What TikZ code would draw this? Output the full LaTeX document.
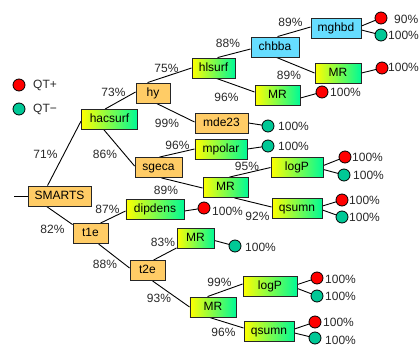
\documentclass[tikz,border=0pt]{standalone}
\usepackage{fontspec}
\setmainfont{Liberation Sans}
\usetikzlibrary{calc,backgrounds}
\definecolor{boxorange}{RGB}{255,204,102}
\definecolor{boxblue}{RGB}{102,221,255}
\definecolor{gradgreen}{RGB}{0,250,150}
\definecolor{qtred}{RGB}{255,0,0}
\definecolor{qtgreen}{RGB}{0,200,150}
\definecolor{labelgray}{RGB}{40,40,40}
\begin{document}
\begin{tikzpicture}[x=1bp,y=-1bp,
  every node/.style={font=\fontsize{12bp}{14bp}\selectfont},
  box/.style={draw=black!85, line width=0.9bp, minimum height=20bp, inner sep=0pt, text height=8.6bp, text depth=2.4bp},
  obox/.style={box, fill=boxorange},
  bbox/.style={box, fill=boxblue},
  gbox/.style={box, left color=yellow, right color=gradgreen},
  leafp/.style={circle, draw=black, line width=0.8bp, fill=qtred, minimum size=12bp, inner sep=0pt},
  leafn/.style={leafp, fill=qtgreen},
  pct/.style={text=labelgray, inner sep=0pt},
  leaflbl/.style={anchor=west, text=labelgray, inner sep=0pt},
  link/.style={draw=black, line width=0.9bp}
]
\useasboundingbox (0,0) rectangle (419,347);

% legend
\node[leafp] (legp) at (19,85) {};
\node[leafn] (legn) at (19,109) {};
\node[leaflbl] (legpt) at (33,85) {QT+};
\node[leaflbl] (legnt) at (33,109) {QT−};

% boxes
\node[obox, minimum width=63bp] (smarts) at (59.5,196) {SMARTS};
\node[gbox, minimum width=56bp] (hacsurf) at (109.5,119.5) {hacsurf};
\node[obox, minimum width=34bp] (hy) at (153,93) {hy};
\node[obox, minimum width=47bp] (sgeca) at (158.5,167.5) {sgeca};
\node[gbox, minimum width=43bp] (hlsurf) at (213.5,68) {hlsurf};
\node[bbox, minimum width=48bp] (chbba) at (275,47) {chbba};
\node[bbox, minimum width=50bp] (mghbd) at (336,28) {mghbd};
\node[gbox, minimum width=46bp] (mrc) at (338,73) {MR};
\node[gbox, minimum width=45bp] (mrh) at (277.5,95) {MR};
\node[obox, minimum width=53bp] (mde) at (221.5,123) {mde23};
\node[gbox, minimum width=52bp] (mpolar) at (221,149) {mpolar};
\node[gbox, minimum width=45bp] (mrs) at (225.5,187.5) {MR};
\node[gbox, minimum width=52bp] (logpa) at (297,167.5) {logP};
\node[gbox, minimum width=50bp] (qsa) at (297,208) {qsumn};
\node[gbox, minimum width=58bp] (dip) at (155,209) {dipdens};
\node[obox, minimum width=35bp] (tone) at (90.5,233.5) {t1e};
\node[obox, minimum width=35bp] (ttwo) at (147.5,270.5) {t2e};
\node[gbox, minimum width=37bp] (mru) at (195.5,238.5) {MR};
\node[gbox, minimum width=46bp] (mrb) at (213,307) {MR};
\node[gbox, minimum width=54bp] (logpb) at (270,286.5) {logP};
\node[gbox, minimum width=50bp] (qsb) at (269,331) {qsumn};

% leaves
\node[leafp] (cmg1) at (381,18) {};
\node[leafn] (cmg2) at (381,35) {};
\node[leafp] (cmrc) at (382,68) {};
\node[leafp] (cmrh) at (322,92) {};
\node[leafn] (cmde) at (268,126) {};
\node[leafn] (cmpo) at (268,146) {};
\node[leafp] (clpa1) at (345,157) {};
\node[leafn] (clpa2) at (344,175) {};
\node[leafp] (cqsa1) at (342,200) {};
\node[leafn] (cqsa2) at (342,217) {};
\node[leafp] (cdip) at (204,208) {};
\node[leafn] (cmru) at (235,246) {};
\node[leafp] (clpb1) at (317,278) {};
\node[leafn] (clpb2) at (317,296) {};
\node[leafp] (cqsb1) at (315,322) {};
\node[leafn] (cqsb2) at (315,338) {};

% leaf labels
\node[leaflbl] (lmg1) at (394,19) {90\%};
\node[leaflbl] (lmg2) at (388,35) {100\%};
\node[leaflbl] (lmrc) at (388,67) {100\%};
\node[leaflbl] (lmrh) at (330,92) {100\%};
\node[leaflbl] (lmde) at (278,126) {100\%};
\node[leaflbl] (lmpo) at (278,146) {100\%};
\node[leaflbl] (llpa1) at (352,157) {100\%};
\node[leaflbl] (llpa2) at (353,175) {100\%};
\node[leaflbl] (lqsa1) at (349,200) {100\%};
\node[leaflbl] (lqsa2) at (349,217) {100\%};
\node[leaflbl] (ldip) at (212,211) {100\%};
\node[leaflbl] (lmru) at (245,247) {100\%};
\node[leaflbl] (llpb1) at (325,279) {100\%};
\node[leaflbl] (llpb2) at (325,296) {100\%};
\node[leaflbl] (lqsb1) at (323,322) {100\%};
\node[leaflbl] (lqsb2) at (325,340.5) {100\%};

% percentages
\node[pct] (p1) at (45.5,154) {71\%};
\node[pct] (p2) at (52.5,229) {82\%};
\node[pct] (p3) at (113.5,92) {73\%};
\node[pct] (p4) at (105,154) {86\%};
\node[pct] (p5) at (166.5,68) {75\%};
\node[pct] (p6) at (167,123) {99\%};
\node[pct] (p7) at (177.5,145.5) {96\%};
\node[pct] (p8) at (228,43) {88\%};
\node[pct] (p9) at (290.5,22) {89\%};
\node[pct] (p10) at (289,75) {89\%};
\node[pct] (p11) at (226.5,97) {96\%};
\node[pct] (p12) at (247,166.5) {95\%};
\node[pct] (p13) at (166,190) {89\%};
\node[pct] (p14) at (257.5,216) {92\%};
\node[pct] (p15) at (107.5,209) {87\%};
\node[pct] (p16) at (105,264) {88\%};
\node[pct] (p17) at (163,242.5) {83\%};
\node[pct] (p18) at (159,298.5) {93\%};
\node[pct] (p19) at (219.5,282) {99\%};
\node[pct] (p20) at (223.5,332.5) {96\%};

\coordinate (stub) at (14,196);

\begin{pgfonlayer}{background}
\draw[link] (stub) -- (smarts.west);
\draw[link] ($(smarts.north west)+(20,0)$) -- ($(hacsurf.west)+(0,1.5)$);
\draw[link] ($(smarts.south west)+(19,0)$) -- ($(tone.north west)+(0,1.5)$);
\draw[link] ($(hacsurf.north west)+(24,0)$) -- ($(hy.west)+(0,-1)$);
\draw[link] ($(hacsurf.south west)+(23,0)$) -- ($(sgeca.west)+(0,-1.5)$);
\draw[link] ($(hy.north west)+(12,0)$) -- (hlsurf.west);
\draw[link] ($(hy.south west)+(21,0)$) -- ($(mde.west)+(0,-1)$);
\draw[link] ($(sgeca.north west)+(25,0)$) -- (mpolar.west);
\draw[link] ($(sgeca.south west)+(27,0)$) -- ($(mrs.west)+(0,0.5)$);
\draw[link] ($(hlsurf.north west)+(26,0)$) -- ($(chbba.west)+(0,2)$);
\draw[link] ($(hlsurf.south west)+(25,0)$) -- ($(mrh.west)+(0,-3)$);
\draw[link] ($(chbba.north west)+(27,0)$) -- ($(mghbd.west)+(0,-1)$);
\draw[link] ($(chbba.south west)+(26,0)$) -- (mrc.west);
\draw[link] ($(mrs.north west)+(27,0)$) -- (logpa.west);
\draw[link] ($(mrs.south west)+(32,0)$) -- ($(qsa.west)+(0,-1)$);
\draw[link] ($(tone.north west)+(28,0)$) -- ($(dip.west)+(0,2)$);
\draw[link] ($(tone.south west)+(26,0)$) -- ($(ttwo.west)+(0,-2.5)$);
\draw[link] ($(ttwo.north west)+(24,0)$) -- ($(mru.south west)+(0,-1)$);
\draw[link] ($(ttwo.south west)+(23,0)$) -- (mrb.west);
\draw[link] ($(mrb.north west)+(18,0)$) -- ($(logpb.west)+(0,-2.5)$);
\draw[link] ($(mrb.south west)+(20,0)$) -- ($(qsb.west)+(0,-3)$);
% leaf links
\draw[link] ($(mghbd.east)+(0,-2)$) -- (cmg1.center);
\draw[link] ($(mghbd.east)+(0,2)$) -- (cmg2.center);
\draw[link] (mrc.east) -- (cmrc.center);
\draw[link] ($(mrh.east)+(0,3)$) -- (cmrh.center);
\draw[link] (mde.east) -- (cmde.center);
\draw[link] (mpolar.east) -- (cmpo.center);
\draw[link] ($(logpa.east)+(0,-2)$) -- (clpa1.center);
\draw[link] ($(logpa.east)+(0,2)$) -- (clpa2.center);
\draw[link] ($(qsa.east)+(0,-2)$) -- (cqsa1.center);
\draw[link] ($(qsa.east)+(0,2)$) -- (cqsa2.center);
\draw[link] ($(dip.east)+(0,2)$) -- (cdip.center);
\draw[link] ($(mru.east)+(0,2)$) -- (cmru.center);
\draw[link] ($(logpb.east)+(0,-2)$) -- (clpb1.center);
\draw[link] ($(logpb.east)+(0,2)$) -- (clpb2.center);
\draw[link] ($(qsb.east)+(0,-2)$) -- (cqsb1.center);
\draw[link] ($(qsb.east)+(0,2)$) -- (cqsb2.center);
\end{pgfonlayer}
\end{tikzpicture}
\end{document}
